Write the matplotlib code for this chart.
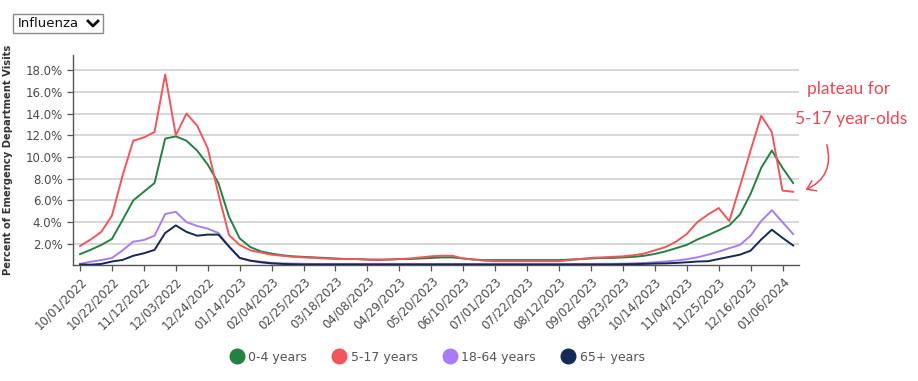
import pandas as pd
import matplotlib
matplotlib.use("Agg")
import matplotlib.pyplot as plt
from matplotlib.lines import Line2D
from matplotlib.patches import Rectangle, FancyArrowPatch

# weekly points, 10/01/2022 .. 01/13/2024
week_dates = pd.date_range("2022-10-01", periods=68, freq="7D")

age_0_4 = [1.05, 1.45, 1.9, 2.45, 4.2, 6.0, 6.8, 7.6, 11.7, 11.9,
           11.5, 10.6, 9.3, 7.6, 4.5, 2.5, 1.7, 1.3, 1.1, 0.95,
           0.85, 0.8, 0.75, 0.7, 0.65, 0.6, 0.6, 0.55, 0.55, 0.55,
           0.6, 0.6, 0.65, 0.7, 0.75, 0.75, 0.65, 0.55, 0.5, 0.5,
           0.5, 0.5, 0.5, 0.5, 0.5, 0.5, 0.55, 0.6, 0.65, 0.7,
           0.7, 0.75, 0.8, 0.9, 1.07, 1.3, 1.6, 1.9, 2.4, 2.8,
           3.25, 3.7, 4.7, 6.6, 9.0, 10.6, 9.0, 7.6]
age_5_17 = [1.8, 2.4, 3.1, 4.6, 8.3, 11.5, 11.8, 12.3, 17.6, 12.0,
            14.0, 12.9, 10.8, 6.6, 2.8, 1.9, 1.4, 1.2, 1.0, 0.9,
            0.8, 0.75, 0.7, 0.65, 0.6, 0.6, 0.6, 0.55, 0.5, 0.55,
            0.6, 0.65, 0.75, 0.85, 0.9, 0.9, 0.65, 0.55, 0.45, 0.4,
            0.4, 0.4, 0.4, 0.4, 0.4, 0.4, 0.5, 0.6, 0.7, 0.75,
            0.8, 0.85, 0.95, 1.1, 1.4, 1.7, 2.2, 2.9, 4.0, 4.7,
            5.3, 4.1, 7.3, 10.6, 13.8, 12.3, 6.9, 6.8]
age_18_64 = [0.15, 0.35, 0.5, 0.7, 1.4, 2.2, 2.35, 2.75, 4.75, 4.95,
             4.0, 3.65, 3.4, 3.0, 1.75, 0.7, 0.45, 0.35, 0.25, 0.2,
             0.18, 0.16, 0.15, 0.15, 0.15, 0.15, 0.15, 0.15, 0.15, 0.15,
             0.15, 0.15, 0.15, 0.15, 0.15, 0.15, 0.15, 0.14, 0.13, 0.13,
             0.13, 0.13, 0.13, 0.13, 0.13, 0.13, 0.14, 0.15, 0.15, 0.16,
             0.16, 0.17, 0.2, 0.24, 0.3, 0.37, 0.46, 0.58, 0.76, 1.0,
             1.28, 1.6, 1.9, 2.75, 4.1, 5.1, 4.0, 2.9]
age_65_plus = [0.1, 0.08, 0.15, 0.37, 0.52, 0.9, 1.13, 1.44, 3.0, 3.7,
               3.1, 2.75, 2.85, 2.85, 1.75, 0.7, 0.45, 0.3, 0.2, 0.15,
               0.12, 0.1, 0.1, 0.1, 0.1, 0.1, 0.1, 0.1, 0.1, 0.1,
               0.1, 0.1, 0.1, 0.1, 0.1, 0.1, 0.1, 0.1, 0.1, 0.1,
               0.1, 0.1, 0.1, 0.1, 0.1, 0.1, 0.1, 0.1, 0.1, 0.1,
               0.1, 0.12, 0.13, 0.15, 0.18, 0.2, 0.24, 0.3, 0.37, 0.4,
               0.6, 0.8, 1.0, 1.37, 2.4, 3.3, 2.55, 1.85]

series_names = ["0-4 years", "5-17 years", "18-64 years", "65+ years"]
series_colors = ["#23823f", "#f2555b", "#a77cf4", "#122a55"]

tick_labels = ["10/01/2022", "10/22/2022", "11/12/2022", "12/03/2022",
               "12/24/2022", "01/14/2023", "02/04/2023", "02/25/2023",
               "03/18/2023", "04/08/2023", "04/29/2023", "05/20/2023",
               "06/10/2023", "07/01/2023", "07/22/2023", "08/12/2023",
               "09/02/2023", "09/23/2023", "10/14/2023", "11/04/2023",
               "11/25/2023", "12/16/2023", "01/06/2024"]
y_ticks = [2, 4, 6, 8, 10, 12, 14, 16, 18]

W, H = 918, 381
fig = plt.figure(figsize=(W / 100, H / 100), dpi=100)
ax = fig.add_axes([73 / W, 1 - 265 / H, (799 - 73) / W, (265 - 55) / H])

for vals, name, col in zip([age_0_4, age_5_17, age_18_64, age_65_plus],
                           series_names, series_colors):
    ax.plot(week_dates, vals, color=col, lw=1.4, label=name, zorder=3)

week = pd.Timedelta(days=7)
ax.set_xlim(week_dates[0] - 0.66 * week, week_dates[-1] + 0.55 * week)
ax.set_ylim(0.05, 19.4)

ax.set_yticks(y_ticks)
ax.set_yticklabels([f"{v:.1f}%" for v in y_ticks])
ax.yaxis.grid(True, color="#d4d4d4", lw=1.3)
ax.set_axisbelow(True)

ax.set_xticks(week_dates[::3])
ax.set_xticklabels(tick_labels, rotation=45, ha="right", rotation_mode="anchor")

for s in ["top", "right"]:
    ax.spines[s].set_visible(False)
for s in ["left", "bottom"]:
    ax.spines[s].set_color("#555555")
    ax.spines[s].set_linewidth(1.0)
ax.tick_params(axis="both", colors="#555555", length=4, width=0.9,
               labelsize=8.5, labelcolor="#4a4a4a")
ax.tick_params(axis="x", pad=3)

ax.set_ylabel("Percent of Emergency Department Visits", fontsize=7.2,
              fontweight="bold", color="#333333", labelpad=9)

# dropdown box
fig.patches.append(Rectangle((13 / W, 1 - 33 / H), 90 / W, 19 / H,
                             transform=fig.transFigure, fill=False,
                             edgecolor="#8a8a8a", lw=1.0))
fig.text(18 / W, 1 - 23.5 / H, "Influenza", fontsize=9.5, va="center",
         color="#111111")
fig.lines.append(Line2D([88 / W, 93 / W, 98 / W],
                        [1 - 21 / H, 1 - 26 / H, 1 - 21 / H],
                        transform=fig.transFigure, color="#111111", lw=2.0))

# handwritten note
note_color = "#ea4a55"
fig.text(849 / W, 1 - 89 / H, "plateau for", fontsize=12.5, color=note_color,
         ha="center", va="center", family=["Lato", "DejaVu Sans"])
fig.text(851 / W, 1 - 119 / H, "5-17 year-olds", fontsize=12.5, color=note_color,
         ha="center", va="center", family=["Lato", "DejaVu Sans"])
fig.add_artist(FancyArrowPatch(
    (826 / W, 1 - 142 / H), (803 / W, 1 - 191 / H),
    transform=fig.transFigure, arrowstyle="->,head_length=6,head_width=4",
    connectionstyle="arc3,rad=-0.45", color=note_color, lw=1.1))

handles = [Line2D([], [], marker="o", ls="none", markersize=10.5,
                  markerfacecolor=c, markeredgecolor=c) for c in series_colors]
fig.legend(handles, series_names, loc="center", ncol=4, frameon=False,
           bbox_to_anchor=(437 / W, 1 - 357 / H), fontsize=9,
           labelcolor="#555555", handletextpad=0.3, columnspacing=2.0,
           handlelength=1.2)

fig.savefig("out.png", dpi=100)
